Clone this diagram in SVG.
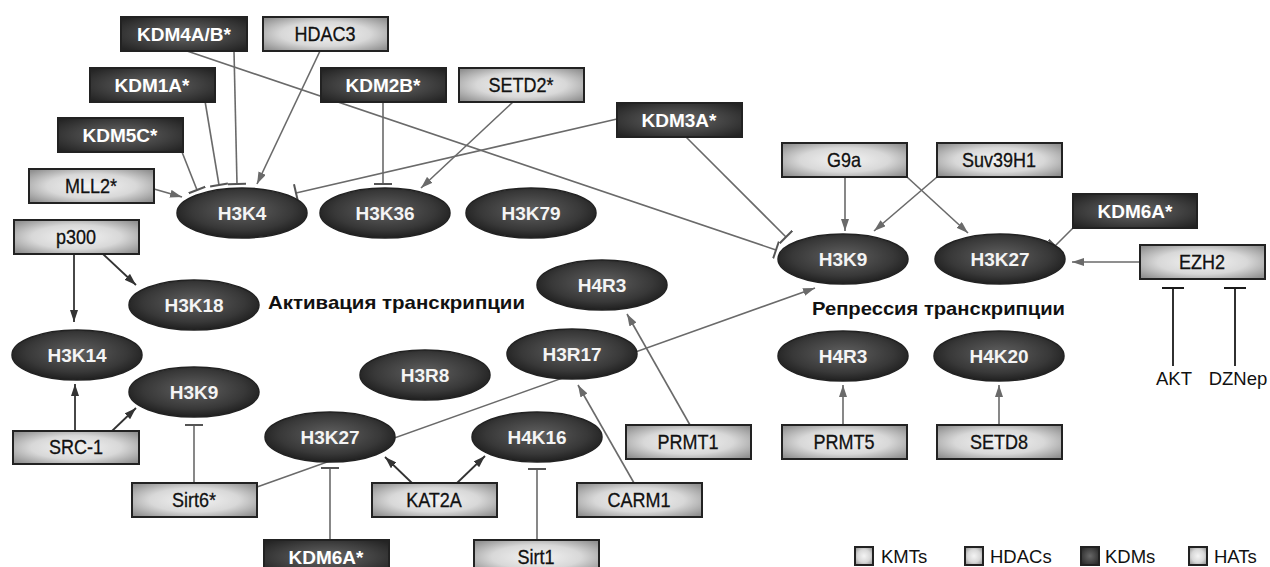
<svg xmlns="http://www.w3.org/2000/svg" width="1270" height="567" viewBox="0 0 1270 567">
<defs>
<radialGradient id="gl" cx="50%" cy="50%" r="65%"><stop offset="0" stop-color="#f4f4f4"/><stop offset="0.55" stop-color="#d8d8d8"/><stop offset="1" stop-color="#909090"/></radialGradient>
<radialGradient id="gd" cx="50%" cy="50%" r="65%"><stop offset="0" stop-color="#676767"/><stop offset="0.6" stop-color="#404040"/><stop offset="1" stop-color="#242424"/></radialGradient>
<radialGradient id="ge" cx="50%" cy="45%" r="60%"><stop offset="0" stop-color="#606060"/><stop offset="0.65" stop-color="#383838"/><stop offset="1" stop-color="#181818"/></radialGradient>
<marker id="arr" viewBox="0 0 12 8" refX="12" refY="4" markerWidth="12" markerHeight="8" markerUnits="userSpaceOnUse" orient="auto"><path d="M0,0 L12,4 L0,8 z" fill="#6a6a6a"/></marker>
<marker id="arrd" viewBox="0 0 12 8" refX="12" refY="4" markerWidth="12" markerHeight="8" markerUnits="userSpaceOnUse" orient="auto"><path d="M0,0 L12,4 L0,8 z" fill="#333"/></marker>
<marker id="tee" viewBox="0 0 4 18" refX="2" refY="9" markerWidth="4" markerHeight="18" markerUnits="userSpaceOnUse" orient="auto"><path d="M2,0 L2,18" stroke="#555" stroke-width="2"/></marker>
<marker id="teek" viewBox="0 0 4 22" refX="2" refY="11" markerWidth="4" markerHeight="22" markerUnits="userSpaceOnUse" orient="auto"><path d="M2,0 L2,22" stroke="#1a1a1a" stroke-width="2"/></marker>
<style>
.bl{fill:url(#gl);stroke:#222;stroke-width:2}
.bd{fill:url(#gd);stroke:#222;stroke-width:2}
.el{fill:url(#ge);stroke:#222;stroke-width:1.5}
.tl{font-family:"Liberation Sans",Arial,sans-serif;font-size:20px;fill:#111;stroke:#111;stroke-width:0.3;text-anchor:middle;transform-box:fill-box;transform-origin:center;transform:scaleX(0.9)}
.td{font-family:"Liberation Sans",Arial,sans-serif;font-size:19px;font-weight:bold;fill:#fff;text-anchor:middle}
.te{font-family:"Liberation Sans",Arial,sans-serif;font-size:19px;font-weight:bold;fill:#f4f4f4;text-anchor:middle}
.hd{font-family:"Liberation Sans",Arial,sans-serif;font-size:19px;font-weight:bold;fill:#111}
.lb{font-family:"Liberation Sans",Arial,sans-serif;font-size:18.5px;fill:#111}
.c{fill:none;stroke:#6a6a6a;stroke-width:1.6}
.cd{fill:none;stroke:#333;stroke-width:1.8}
.ck{fill:none;stroke:#1a1a1a;stroke-width:1.8}
.a{marker-end:url(#arr)}
.ad{marker-end:url(#arrd)}
.t{marker-end:url(#tee)}
.tk{marker-end:url(#teek)}
</style>
</defs>
<rect width="1270" height="567" fill="#fff"/>

<g id="connectors">
<path class="c t" d="M234,51 L237,184"/>
<path class="c t" d="M205,101 L219,185"/>
<path class="c t" d="M182,152 L197,190"/>
<path class="c a" d="M154,189 L182,197"/>
<path class="c a" d="M320,51 L257,184"/>
<path class="c t" d="M187,51 L776,250"/>
<path class="c t" d="M383,101 L383,184"/>
<path class="c a" d="M514,101 L421,188"/>
<path class="c t" d="M617,119 L296,193"/>
<path class="c t" d="M686,137 L786,237"/>
<path class="c a" d="M845,177 L845,231"/>
<path class="c a" d="M907,177 L968,233"/>
<path class="c a" d="M937,177 L874,231"/>
<path class="c t" d="M1073,228 L1055,246"/>
<path class="c a" d="M1140,262 L1072,262"/>
<path class="ck tk" d="M1173,366 L1173,288"/>
<path class="ck tk" d="M1235,366 L1235,288"/>
<path class="cd ad" d="M74,254 L74,322"/>
<path class="cd ad" d="M103,254 L136,285"/>
<path class="cd ad" d="M75,431 L75,384"/>
<path class="cd ad" d="M112,431 L136,408"/>
<path class="c t" d="M194,483 L194,425"/>
<path class="c a" d="M257,487 L815,288"/>
<path class="c t" d="M330,540 L330,468"/>
<path class="cd ad" d="M412,483 L385,457"/>
<path class="cd ad" d="M457,483 L485,456"/>
<path class="c t" d="M537,540 L537,469"/>
<path class="c a" d="M634,483 L578,385"/>
<path class="c a" d="M690,425 L627,314"/>
<path class="c a" d="M843,425 L843,385"/>
<path class="c a" d="M999,425 L999,385"/>
</g>

<g id="kdm4ab"><rect class="bd" x="121" y="17" width="126" height="34"/><text class="td" x="184" y="41">KDM4A/B*</text></g>
<g id="hdac3"><rect class="bl" x="263" y="17" width="125" height="34"/><text class="tl" x="325" y="41">HDAC3</text></g>
<g id="kdm1a"><rect class="bd" x="90" y="68" width="125" height="34"/><text class="td" x="152" y="92">KDM1A*</text></g>
<g id="kdm2b"><rect class="bd" x="321" y="68" width="125" height="34"/><text class="td" x="383" y="92">KDM2B*</text></g>
<g id="setd2"><rect class="bl" x="459" y="68" width="125" height="34"/><text class="tl" x="521" y="92">SETD2*</text></g>
<g id="kdm5c"><rect class="bd" x="58" y="118" width="125" height="34"/><text class="td" x="120" y="142">KDM5C*</text></g>
<g id="kdm3a"><rect class="bd" x="617" y="103" width="125" height="34"/><text class="td" x="679" y="127">KDM3A*</text></g>
<g id="mll2"><rect class="bl" x="29" y="169" width="125" height="34"/><text class="tl" x="91" y="193">MLL2*</text></g>
<g id="g9a"><rect class="bl" x="782" y="143" width="125" height="34"/><text class="tl" x="844" y="167">G9a</text></g>
<g id="suv39h1"><rect class="bl" x="937" y="143" width="125" height="34"/><text class="tl" x="999" y="167">Suv39H1</text></g>
<g id="kdm6a-r"><rect class="bd" x="1073" y="194" width="124" height="34"/><text class="td" x="1135" y="218">KDM6A*</text></g>
<g id="ezh2"><rect class="bl" x="1140" y="245" width="125" height="34"/><text class="tl" x="1202" y="269">EZH2</text></g>
<g id="p300"><rect class="bl" x="14" y="220" width="125" height="34"/><text class="tl" x="76" y="244">p300</text></g>
<g id="src1"><rect class="bl" x="13" y="431" width="126" height="33"/><text class="tl" x="76" y="454">SRC-1</text></g>
<g id="sirt6"><rect class="bl" x="132" y="483" width="125" height="34"/><text class="tl" x="194" y="507">Sirt6*</text></g>
<g id="kdm6a-b"><rect class="bd" x="264" y="540" width="125" height="34"/><text class="td" x="326" y="564">KDM6A*</text></g>
<g id="kat2a"><rect class="bl" x="372" y="483" width="125" height="34"/><text class="tl" x="434" y="507">KAT2A</text></g>
<g id="sirt1"><rect class="bl" x="474" y="540" width="125" height="34"/><text class="tl" x="536" y="564">Sirt1</text></g>
<g id="carm1"><rect class="bl" x="577" y="483" width="125" height="34"/><text class="tl" x="639" y="507">CARM1</text></g>
<g id="prmt1"><rect class="bl" x="626" y="425" width="125" height="34"/><text class="tl" x="688" y="449">PRMT1</text></g>
<g id="prmt5"><rect class="bl" x="782" y="425" width="125" height="34"/><text class="tl" x="844" y="449">PRMT5</text></g>
<g id="setd8"><rect class="bl" x="937" y="425" width="125" height="34"/><text class="tl" x="999" y="449">SETD8</text></g>

<g id="h3k4"><ellipse class="el" cx="242" cy="213" rx="65" ry="25"/><text class="te" x="242" y="220">H3K4</text></g>
<g id="h3k36"><ellipse class="el" cx="385" cy="213" rx="65" ry="25"/><text class="te" x="385" y="220">H3K36</text></g>
<g id="h3k79"><ellipse class="el" cx="531" cy="213" rx="65" ry="25"/><text class="te" x="531" y="220">H3K79</text></g>
<g id="h3k18"><ellipse class="el" cx="194" cy="305" rx="65" ry="25"/><text class="te" x="194" y="312">H3K18</text></g>
<g id="h3k14"><ellipse class="el" cx="77" cy="355" rx="65" ry="25"/><text class="te" x="77" y="362">H3K14</text></g>
<g id="h3k9-l"><ellipse class="el" cx="194" cy="392" rx="65" ry="25"/><text class="te" x="194" y="399">H3K9</text></g>
<g id="h4r3-m"><ellipse class="el" cx="602" cy="285" rx="65" ry="25"/><text class="te" x="602" y="292">H4R3</text></g>
<g id="h3r17"><ellipse class="el" cx="572" cy="354" rx="65" ry="25"/><text class="te" x="572" y="361">H3R17</text></g>
<g id="h3r8"><ellipse class="el" cx="425" cy="375" rx="65" ry="25"/><text class="te" x="425" y="382">H3R8</text></g>
<g id="h3k27-l"><ellipse class="el" cx="330" cy="437" rx="65" ry="25"/><text class="te" x="330" y="444">H3K27</text></g>
<g id="h4k16"><ellipse class="el" cx="537" cy="437" rx="65" ry="25"/><text class="te" x="537" y="444">H4K16</text></g>
<g id="h3k9-r"><ellipse class="el" cx="843" cy="259" rx="65" ry="25"/><text class="te" x="843" y="266">H3K9</text></g>
<g id="h3k27-r"><ellipse class="el" cx="1000" cy="259" rx="65" ry="25"/><text class="te" x="1000" y="266">H3K27</text></g>
<g id="h4r3-r"><ellipse class="el" cx="843" cy="356" rx="65" ry="25"/><text class="te" x="843" y="363">H4R3</text></g>
<g id="h4k20"><ellipse class="el" cx="999" cy="356" rx="65" ry="25"/><text class="te" x="999" y="363">H4K20</text></g>

<g id="akt"><text class="lb" x="1174" y="385" text-anchor="middle">AKT</text></g>
<g id="dznep"><text class="lb" x="1238" y="385" text-anchor="middle">DZNep</text></g>

<g id="labels">
<text class="hd" x="268" y="309" textLength="257" lengthAdjust="spacingAndGlyphs">Активация транскрипции</text>
<text class="hd" x="812" y="315" textLength="253" lengthAdjust="spacingAndGlyphs">Репрессия транскрипции</text>
</g>

<g id="legend">
<rect class="bl" x="855" y="547" width="18" height="18" stroke-width="1.5"/><text class="lb" x="881" y="563">KMTs</text>
<rect class="bl" x="965" y="547" width="18" height="18" stroke-width="1.5"/><text class="lb" x="990" y="563">HDACs</text>
<rect class="bd" x="1081" y="547" width="18" height="18" stroke-width="1.5"/><text class="lb" x="1105" y="563">KDMs</text>
<rect class="bl" x="1189" y="547" width="18" height="18" stroke-width="1.5"/><text class="lb" x="1214" y="563">HATs</text>
</g>
</svg>
